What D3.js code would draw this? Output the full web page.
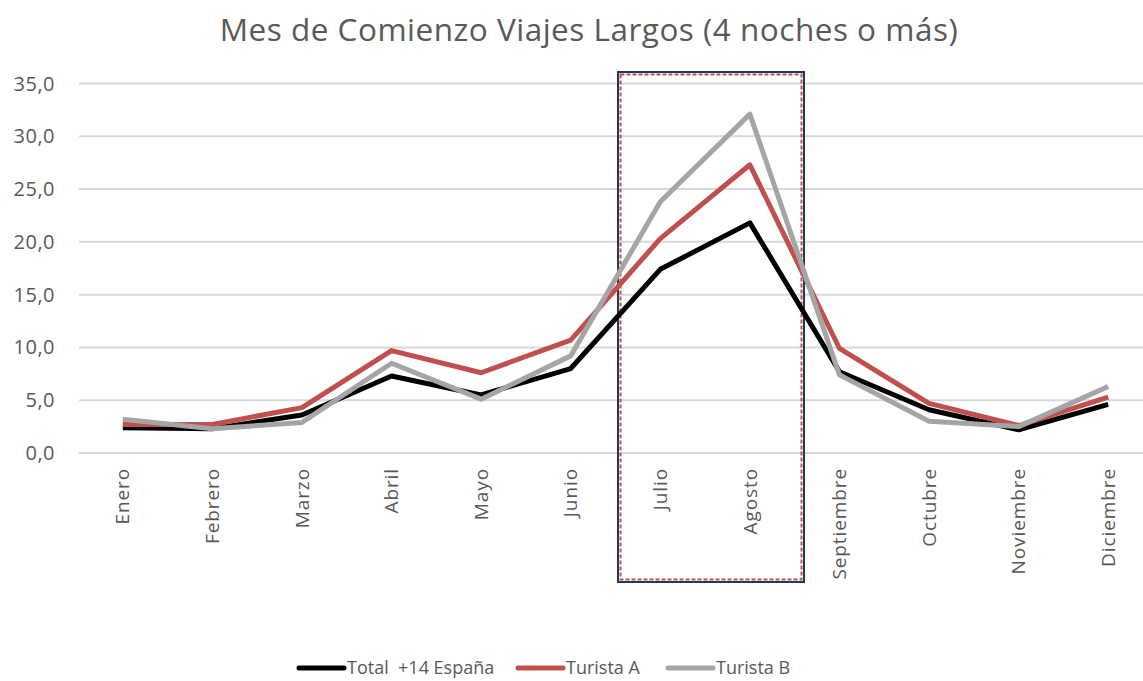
<!DOCTYPE html>
<html><head><meta charset="utf-8">
<script src="https://cdn.jsdelivr.net/npm/d3@7"></script>
<style>body{margin:0;background:#fff}svg{display:block}text{font-family:"Open Sans",sans-serif;fill:#595959;white-space:pre}</style>
</head><body>
<svg id="c" width="1143" height="681"></svg>
<script>
const months = ["Enero","Febrero","Marzo","Abril","Mayo","Junio","Julio","Agosto","Septiembre","Octubre","Noviembre","Diciembre"];
const total = [2.4,2.3,3.6,7.3,5.5,8.0,17.4,21.8,7.7,4.1,2.2,4.6];
const turistaA = [2.7,2.7,4.3,9.7,7.6,10.7,20.3,27.3,9.9,4.7,2.6,5.3];
const turistaB = [3.2,2.3,2.9,8.5,5.1,9.2,23.8,32.1,7.4,3.0,2.5,6.3];
const yTicks = [0,5,10,15,20,25,30,35];
const seriesNames = ["Total  +14 España","Turista A","Turista B"];
const colors = ["#000000","#C0504D","#A5A5A5"];
const title = "Mes de Comienzo Viajes Largos (4 noches o más)";

(function(){
const svg = d3.select("#c");
const pL = 78, pR = 1153, pT = 83.5, pB = 453;
const x = d3.scaleBand().domain(months).range([pL, pR]);
const y = d3.scaleLinear().domain([0,35]).range([pB, pT]);
const cx = m => x(m) + x.bandwidth()/2;

svg.append("text").attr("x",589).attr("y",41).attr("text-anchor","middle")
  .style("font-size","31.5px").style("letter-spacing","0.5px").text(title);

svg.append("g").selectAll("line").data(yTicks).join("line")
  .attr("x1",pL+1).attr("x2",1143).attr("y1",d=>y(d)).attr("y2",d=>y(d))
  .attr("stroke","#d9d9d9").attr("stroke-width",2);

const fmt = d => d3.format(".1f")(d).replace(".",",");
svg.append("g").selectAll("text").data(yTicks).join("text")
  .attr("x",55).attr("y",d=>y(d)).attr("dy","0.35em").attr("text-anchor","end")
  .style("font-size","20px").style("letter-spacing","0.5px").text(fmt);

svg.append("g").selectAll("text").data(months).join("text")
  .attr("transform",m=>`translate(${cx(m)},${468}) rotate(-90)`)
  .attr("dy","0.35em")
  .attr("text-anchor","end").style("font-size","19px").style("letter-spacing","0.9px").text(m=>m);

svg.append("rect").attr("x",618).attr("y",72).attr("width",186).attr("height",510)
  .attr("fill","none").attr("stroke","#1F3864").attr("stroke-width",2);
svg.append("rect").attr("x",620.5).attr("y",74.5).attr("width",181).attr("height",505)
  .attr("fill","none").attr("stroke","#C0504D").attr("stroke-width",2).attr("stroke-dasharray","4,2");

const line = d3.line().x((d,i)=>cx(months[i])).y(d=>y(d));
[total, turistaA, turistaB].forEach((s,i)=>{
  svg.append("path").datum(s).attr("d",line).attr("fill","none")
    .attr("stroke",colors[i]).attr("stroke-width",5).attr("stroke-linejoin","round");
});

const legX = [299, 518, 668];
seriesNames.forEach((n,i)=>{
  svg.append("line").attr("x1",legX[i]).attr("x2",legX[i]+45).attr("y1",668).attr("y2",668)
    .attr("stroke",colors[i]).attr("stroke-width",5).attr("stroke-linecap","round");
  svg.append("text").attr("x",legX[i]+48).attr("y",668).attr("dy","0.35em")
    .style("font-size","18px").text(n);
});
})();
</script>
</body></html>
